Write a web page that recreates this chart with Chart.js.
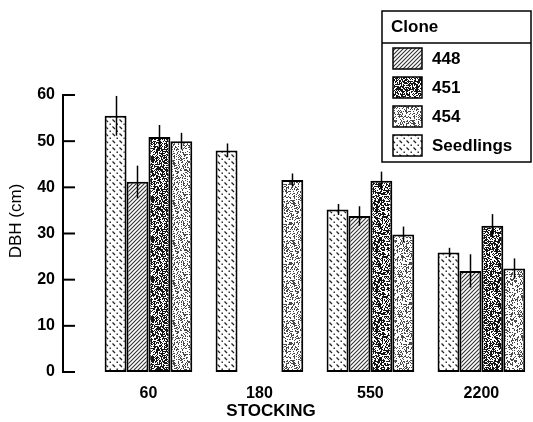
<!DOCTYPE html>
<html>
<head>
<meta charset="utf-8">
<script src="https://cdn.jsdelivr.net/npm/chart.js@4/dist/chart.umd.min.js"></script>
<style>
html,body{margin:0;padding:0;background:#fff;}
#wrap{width:533px;height:422px;position:relative;}
</style>
</head>
<body>
<div id="wrap"><canvas id="c" width="533" height="422"></canvas></div>
<script>
// ---- data ----
const categories = ['60', '180', '550', '2200'];
const seriesNames = ['Seedlings', '448', '451', '454'];
const seedlings = [55.5, 48.0, 35.2, 25.9];
const clone448 = [41.2, null, 33.8, 21.9];
const clone451 = [50.9, null, 41.4, 31.7];
const clone454 = [50.0, 41.6, 29.8, 22.4];
const errSeedlings = [4.3, 1.5, 1.2, 1.0];
const err448 = [3.5, null, 2.1, 3.6];
const err451 = [2.6, null, 2.0, 2.5];
const err454 = [1.8, 1.4, 1.7, 2.2];
const yTicks = [0, 10, 20, 30, 40, 50, 60];
const legendTitle = 'Clone';
const legendOrder = ['448', '451', '454', 'Seedlings'];
const xTitle = 'STOCKING';
const yTitle = 'DBH (cm)';

const FONT = '"Liberation Sans", Arial, Helvetica, sans-serif';

// ---- deterministic hash for textures ----
function hash(x, y, s) {
  let n = Math.imul(x, 374761393) + Math.imul(y, 668265263) + Math.imul(s, 982451653);
  n = Math.imul(n ^ (n >>> 13), 1274126177);
  n = n ^ (n >>> 16);
  return (n >>> 0) / 4294967296;
}
function tile(w, h, draw) {
  const c = document.createElement('canvas');
  c.width = w; c.height = h;
  const g = c.getContext('2d');
  g.fillStyle = '#fff'; g.fillRect(0, 0, w, h);
  draw(g, w, h);
  return c;
}
const tiles = {
  'Seedlings': tile(7, 7, (g) => {
    g.strokeStyle = '#222'; g.lineWidth = 1.2;
    g.beginPath(); g.moveTo(0.5, 0.5); g.lineTo(3, 3); g.stroke();
    g.fillStyle = '#333'; g.fillRect(4.5, 4.5, 1.5, 1.5);
  }),
  '448': tile(4, 4, (g) => {
    g.strokeStyle = '#333'; g.lineWidth = 1.1;
    g.beginPath();
    g.moveTo(-1, 5); g.lineTo(5, -1);
    g.moveTo(-1, 1); g.lineTo(1, -1);
    g.moveTo(3, 5); g.lineTo(5, 3);
    g.stroke();
  }),
  '451': tile(40, 40, (g) => {
    g.fillStyle = '#151515';
    for (let y = 0; y < 40; y++) for (let x = 0; x < 40; x++) {
      if (hash(x, y, 7) < 0.55) g.fillRect(x, y, 1, 1);
    }
  }),
  '454': tile(40, 40, (g) => {
    g.fillStyle = '#4a4a4a';
    for (let y = 0; y < 40; y++) for (let x = 0; x < 40; x++) {
      if (hash(x, y, 3) < 0.33) g.fillRect(x, y, 1, 1);
    }
  })
};
const ctx = document.getElementById('c').getContext('2d');
const patterns = {};
for (const k in tiles) patterns[k] = ctx.createPattern(tiles[k], 'repeat');

const valueSets = { 'Seedlings': seedlings, '448': clone448, '451': clone451, '454': clone454 };
const errSets = { 'Seedlings': errSeedlings, '448': err448, '451': err451, '454': err454 };

const datasets = seriesNames.map(name => ({
  label: name,
  data: categories.map((c, i) => ({ x: i, y: valueSets[name][i] })),
  errors: errSets[name],
  backgroundColor: patterns[name],
  borderColor: '#000',
  borderWidth: 2,
  borderSkipped: false,
  categoryPercentage: 0.79,
  barPercentage: 1.0
}));

const errorBars = {
  id: 'errorBars',
  afterDatasetsDraw(chart) {
    const c = chart.ctx, ys = chart.scales.y;
    c.save();
    c.strokeStyle = '#000'; c.lineWidth = 1.5;
    chart.data.datasets.forEach((ds, di) => {
      const meta = chart.getDatasetMeta(di);
      meta.data.forEach((el, i) => {
        const v = ds.data[i].y, e = ds.errors[i];
        if (v == null || e == null) return;
        const x = Math.round(el.x) + 0.5;
        c.beginPath();
        c.moveTo(x, ys.getPixelForValue(v + e));
        c.lineTo(x, ys.getPixelForValue(v - e));
        c.stroke();
      });
    });
    c.restore();
  }
};

const decorations = {
  id: 'decorations',
  afterDraw(chart) {
    const c = chart.ctx, ys = chart.scales.y, area = chart.chartArea;
    c.save();
    // inward y ticks
    c.strokeStyle = '#000'; c.lineWidth = 2;
    ys.ticks.forEach((t, i) => {
      const y = ys.getPixelForTick(i);
      c.beginPath(); c.moveTo(area.left, y); c.lineTo(area.left + 12, y); c.stroke();
    });
    // axis titles
    c.fillStyle = '#000';
    c.textAlign = 'center'; c.textBaseline = 'middle';
    c.font = 'bold 17px ' + FONT;
    c.fillText(xTitle, 271, 411);
    c.save();
    c.translate(16, 221); c.rotate(-Math.PI / 2);
    c.font = '17px ' + FONT;
    c.fillText(yTitle, 0, 0);
    c.restore();
    // legend
    const L = 382, T = 11, R = 531, B = 162, H = 43;
    c.lineWidth = 1.5; c.strokeStyle = '#000';
    c.strokeRect(L, T, R - L, B - T);
    c.beginPath(); c.moveTo(L, H); c.lineTo(R, H); c.stroke();
    c.textAlign = 'left';
    c.font = 'bold 17px ' + FONT;
    c.fillText(legendTitle, 391, 27);
    legendOrder.forEach((name, i) => {
      const cy = 58 + i * 29;
      c.fillStyle = patterns[name];
      c.fillRect(393, cy - 10, 29, 21);
      c.strokeRect(393, cy - 10, 29, 21);
      c.fillStyle = '#000';
      c.fillText(name, 432, cy + 1);
    });
    c.restore();
  }
};

new Chart(ctx, {
  type: 'bar',
  data: { datasets },
  options: {
    responsive: false,
    animation: false,
    layout: { padding: { left: 0, right: 5, top: 95, bottom: 0 } },
    plugins: { legend: { display: false }, tooltip: { enabled: false } },
    scales: {
      x: {
        type: 'linear',
        min: -0.77,
        max: 3.42,
        offset: false,
        grid: { display: false, drawTicks: false },
        border: { display: false },
        afterBuildTicks(scale) { scale.ticks = categories.map((c, i) => ({ value: i })); },
        afterFit(scale) { scale.height = 50; },
        ticks: {
          autoSkip: false,
          maxRotation: 0,
          padding: 12,
          color: '#000',
          font: { family: FONT, size: 16, weight: 'bold' },
          callback: (v) => categories[v] ?? ''
        }
      },
      y: {
        min: 0,
        max: 60,
        afterBuildTicks(scale) { scale.ticks = yTicks.map(v => ({ value: v })); },
        afterFit(scale) { scale.width = 63; },
        grid: { display: false, drawTicks: false },
        border: { display: true, color: '#000', width: 2 },
        ticks: {
          padding: 8,
          color: '#000',
          font: { family: FONT, size: 16, weight: 'bold' }
        }
      }
    }
  },
  plugins: [errorBars, decorations]
});
</script>
</body>
</html>
